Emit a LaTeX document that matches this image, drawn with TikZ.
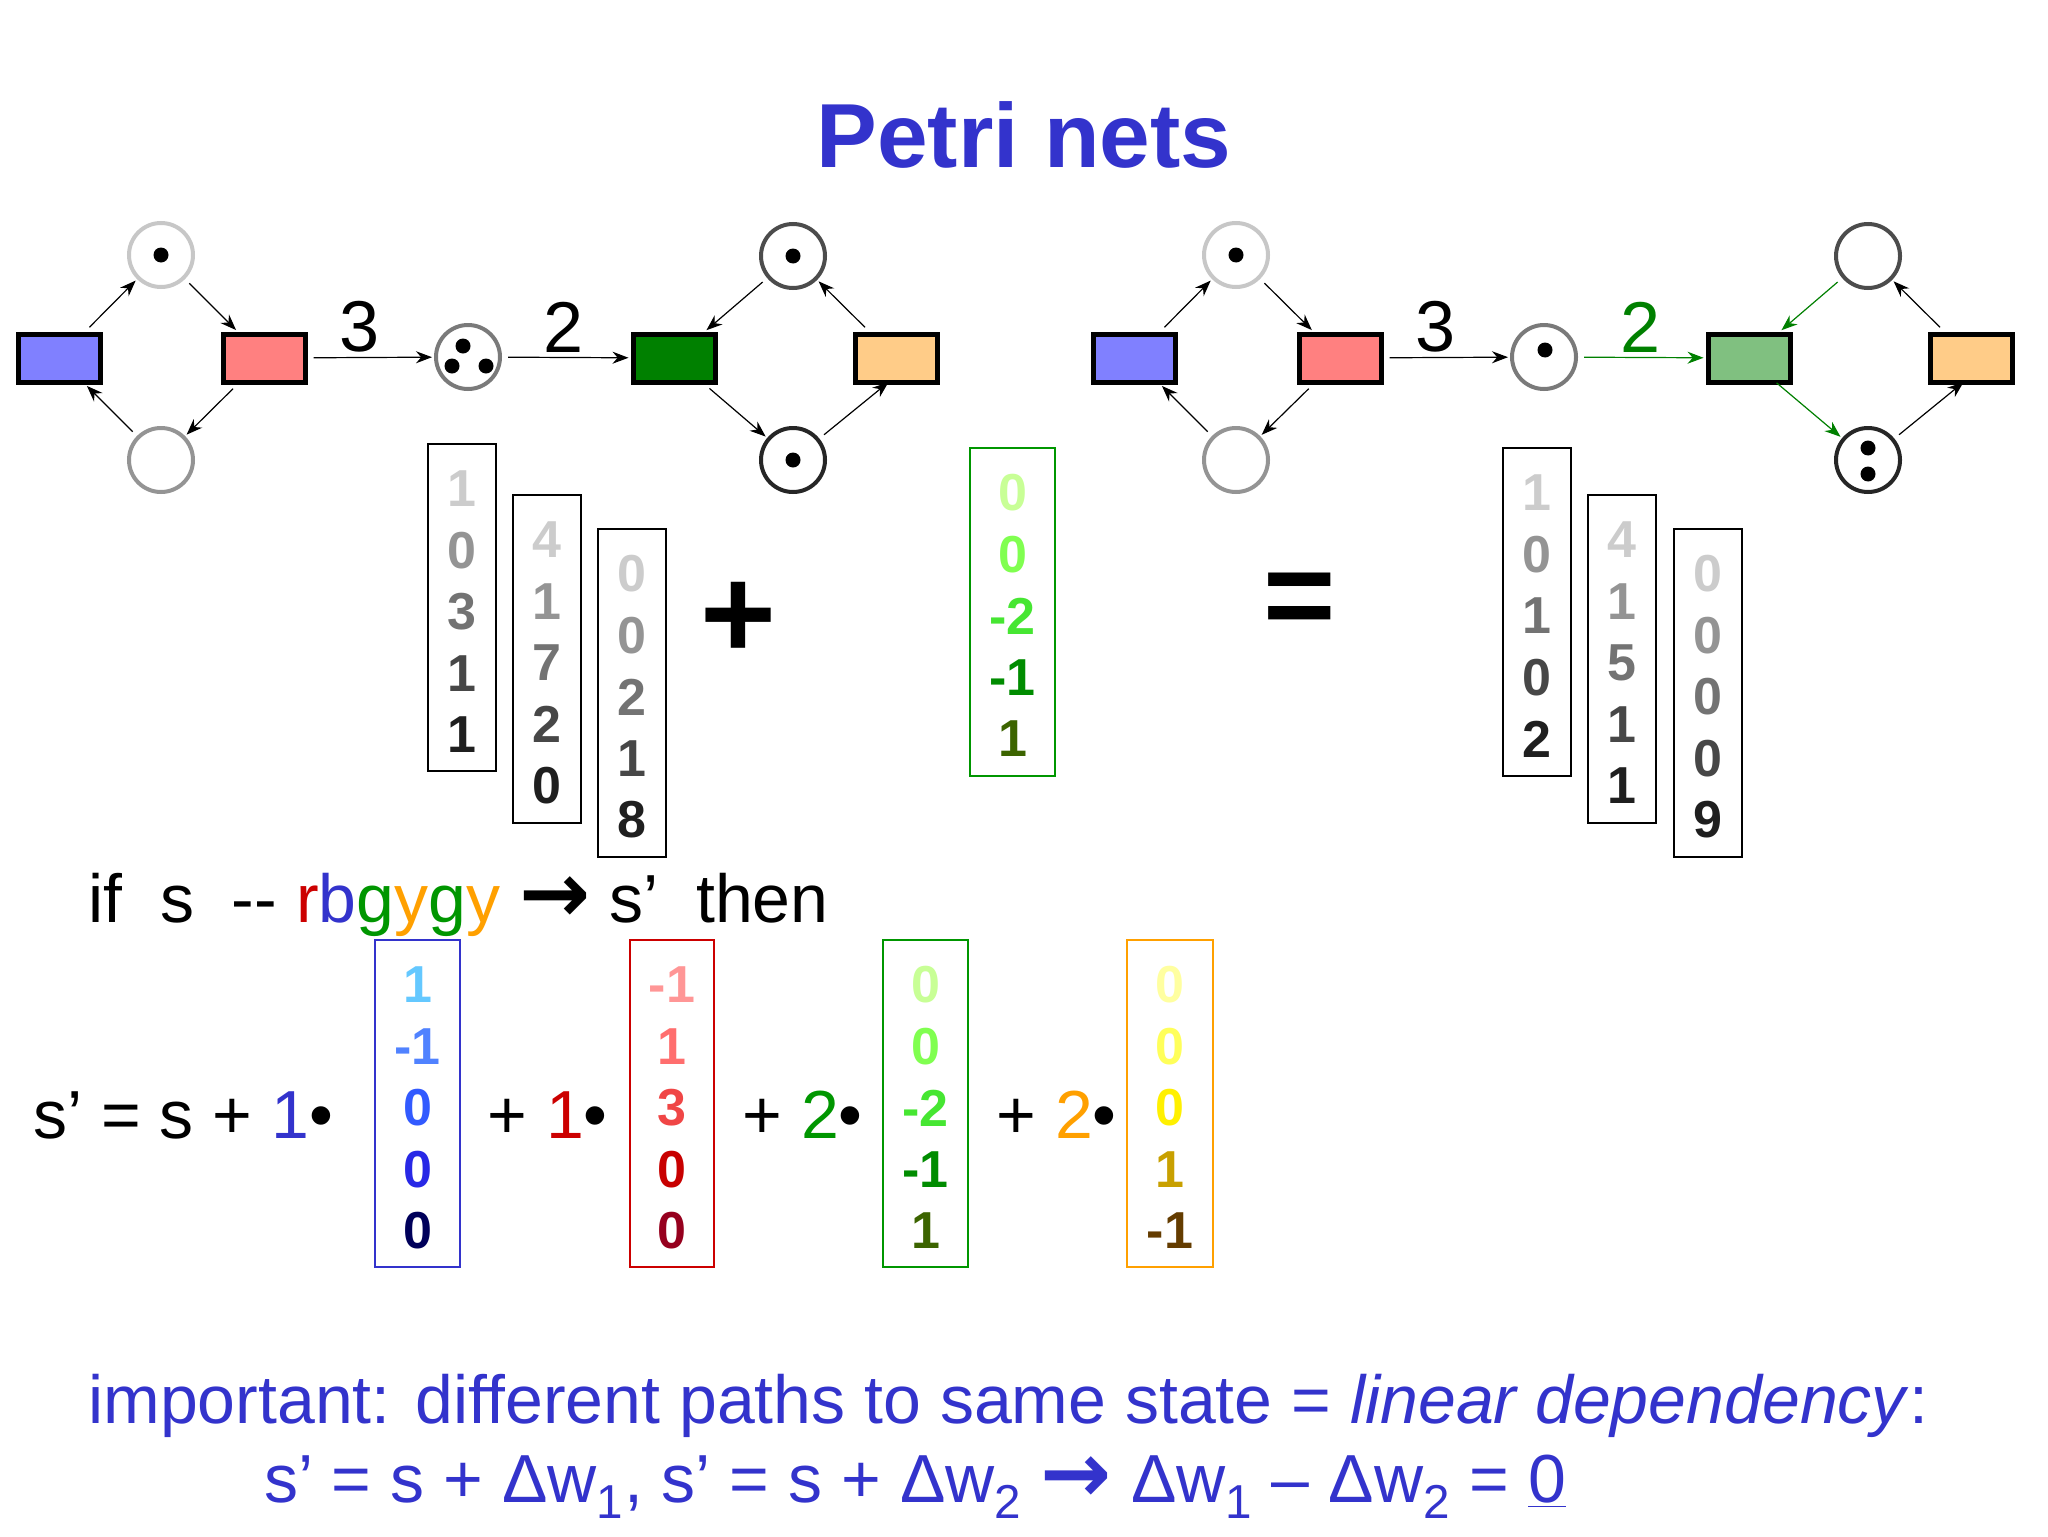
\documentclass[tikz,border=0pt]{standalone}
\usepackage{fontspec}
\setmainfont{Liberation Sans}
\newfontfamily\dvs{DejaVu Sans}
\usetikzlibrary{arrows.meta}
\definecolor{ttl}{RGB}{51,51,204}
\definecolor{tb}{RGB}{128,128,255}
\definecolor{tr}{RGB}{255,128,128}
\definecolor{tg}{RGB}{0,128,0}
\definecolor{tlg}{RGB}{128,192,128}
\definecolor{to}{RGB}{255,204,136}
\tikzset{
 x=0.5pt,y=-0.5pt,
 trans/.style={draw=black,line width=2.5pt,minimum width=41pt,minimum height=24pt,inner sep=0},
 place/.style={circle,draw,line width=2pt,minimum size=32pt,inner sep=0,fill=white},
 tok/.style={circle,fill=black,minimum size=7.5pt,inner sep=0},
 arr/.style={-{Stealth[length=8pt,width=6pt]},line width=0.6pt,shorten <=3pt,shorten >=1pt},
 lab/.style={font=\fontsize{36}{40}\selectfont},
 dig/.style={font=\fontsize{26}{28}\bfseries\selectfont,inner sep=0},
 big/.style={font=\fontsize{34}{40}\selectfont,anchor=west,inner sep=0},
}
\newcommand\bigarrow{{\dvs\bfseries\scalebox{1.25}{→}}}
\newcommand\vecbx[6]{%
 \draw[#5,line width=1pt] (#1,#2) rectangle (#3,#4);
 \foreach \c/\d [count=\i] in {#6}{
   \node[dig,text=\c] at ({(#1+#3)/2},{#2+45+(\i-1)*61.5}) {\d};}
}
\definecolor{g1}{gray}{0.80}\definecolor{g2}{gray}{0.58}\definecolor{g3}{gray}{0.45}
\definecolor{g4}{gray}{0.28}\definecolor{g5}{gray}{0.12}
\definecolor{v1}{RGB}{200,255,150}\definecolor{v2}{RGB}{128,255,80}\definecolor{v3}{RGB}{70,230,50}
\definecolor{v4}{RGB}{0,140,0}\definecolor{v5}{RGB}{60,100,0}
\definecolor{b1}{RGB}{100,200,255}\definecolor{b2}{RGB}{80,130,255}\definecolor{b3}{RGB}{50,90,255}
\definecolor{b4}{RGB}{40,40,230}\definecolor{b5}{RGB}{0,0,90}
\definecolor{r1}{RGB}{255,150,150}\definecolor{r2}{RGB}{255,110,110}\definecolor{r3}{RGB}{240,70,70}
\definecolor{r4}{RGB}{200,0,0}\definecolor{r5}{RGB}{150,0,30}
\definecolor{y1}{RGB}{255,255,160}\definecolor{y2}{RGB}{255,255,90}\definecolor{y3}{RGB}{255,240,0}
\definecolor{y4}{RGB}{200,160,0}\definecolor{y5}{RGB}{100,60,0}
\definecolor{fr}{RGB}{204,0,0}\definecolor{fg}{RGB}{0,150,0}\definecolor{fy}{RGB}{255,160,0}
\begin{document}
\begin{tikzpicture}
\useasboundingbox[fill=white] (0,0) rectangle (2048,1536);
\node[text=ttl,font=\fontsize{45.5}{52}\bfseries\selectfont] (title) at (1024,135) {Petri nets};
% ---- left net
\node[trans,fill=tb] (B1) at (59,358) {};
\node[trans,fill=tr] (R1) at (264,358) {};
\node[place,draw=black!22] (PT1) at (161,255) {};
\node[place,draw=black!42] (PB1) at (161,460) {};
\node[tok] at (PT1) {};
\node[place,draw=black!52] (PM1) at (468,357) {};
\node[tok] at (463,346) {};\node[tok] at (452,366) {};\node[tok] at (486,366) {};
\node[trans,fill=tg] (G1) at (674,358) {};
\node[trans,fill=to] (O1) at (896,358) {};
\coordinate (O1in) at (890,381);
\node[place,draw=black!70] (QT1) at (793,256) {};
\node[place,draw=black!85] (QB1) at (793,460) {};
\node[tok] at (QT1) {};\node[tok] at (QB1) {};
\draw[arr] (B1) -- (PT1);
\draw[arr] (PT1) -- (R1);
\draw[arr] (R1) -- (PB1);
\draw[arr] (PB1) -- (B1);
\draw[arr] (R1) -- (PM1);
\draw[arr] (PM1) -- (G1);
\draw[arr] (QT1) -- (G1);
\draw[arr] (G1) -- (QB1);
\draw[arr] (QB1) -- (O1in);
\draw[arr] (O1) -- (QT1);
\node[lab] (l3a) at (360,327) {3};
\node[lab] (l2a) at (564,327) {2};
% ---- right net
\node[trans,fill=tb] (B2) at (1134,358) {};
\node[trans,fill=tr] (R2) at (1340,358) {};
\node[place,draw=black!22] (PT2) at (1236,255) {};
\node[place,draw=black!42] (PB2) at (1236,460) {};
\node[tok] at (PT2) {};
\node[place,draw=black!52] (PM2) at (1544,357) {};
\node[tok] at (1545,350) {};
\node[trans,fill=tlg] (G2) at (1749,358) {};
\node[trans,fill=to] (O2) at (1971,358) {};
\coordinate (O2in) at (1965,381);
\coordinate (G2in) at (1772,379);
\node[place,draw=black!70] (QT2) at (1868,256) {};
\node[place,draw=black!85] (QB2) at (1868,460) {};
\node[tok] at (1868,448) {};\node[tok] at (1868,474) {};
\draw[arr] (B2) -- (PT2);
\draw[arr] (PT2) -- (R2);
\draw[arr] (R2) -- (PB2);
\draw[arr] (PB2) -- (B2);
\draw[arr] (R2) -- (PM2);
\draw[arr,tg] (PM2) -- (G2);
\draw[arr,tg] (QT2) -- (G2);
\draw[arr,tg] (G2in) -- (QB2);
\draw[arr] (QB2) -- (O2in);
\draw[arr] (O2) -- (QT2);
\node[lab] (l3b) at (1435,327) {3};
\node[lab,text=tg] (l2b) at (1640,327) {2};
% ---- state vectors
\vecbx{428}{444}{496}{771}{black}{g1/1,g2/0,g3/3,g4/1,g5/1}
\vecbx{513}{495}{581}{823}{black}{g1/4,g2/1,g3/7,g4/2,g5/0}
\vecbx{598}{529}{666}{857}{black}{g1/0,g2/0,g3/2,g4/1,g5/8}
\node[font=\fontsize{65}{65}\bfseries\selectfont] (plus) at (738,620) {+};
\vecbx{970}{448}{1055}{776}{fg}{v1/0,v2/0,v3/-2,v4/-1,v5/1}
\node[font=\fontsize{62}{62}\bfseries\selectfont] (eq) at (1300,605) {=};
\vecbx{1503}{448}{1571}{776}{black}{g1/1,g2/0,g3/1,g4/0,g5/2}
\vecbx{1588}{495}{1656}{823}{black}{g1/4,g2/1,g3/5,g4/1,g5/1}
\vecbx{1674}{529}{1742}{857}{black}{g1/0,g2/0,g3/0,g4/0,g5/9}
% ---- sequence
\node[big] (iftxt) at (88,905) {if\ \ s\ \ -{}- \textcolor{fr}{r}\textcolor{ttl}{b}\textcolor{fg}{g}\textcolor{fy}{y}\textcolor{fg}{g}\textcolor{fy}{y} \bigarrow\ s’\ \ then};
\node[big] (sum0) at (33,1115) {s’ = s + \textcolor{ttl}{1}•};
\vecbx{375}{940}{460}{1267}{ttl}{b1/1,b2/-1,b3/0,b4/0,b5/0}
\node[big] (sum1) at (487,1115) {+ \textcolor{fr}{1}•};
\vecbx{630}{940}{714}{1267}{fr}{r1/-1,r2/1,r3/3,r4/0,r5/0}
\node[big] (sum2) at (742,1115) {+ \textcolor{fg}{2}•};
\vecbx{883}{940}{968}{1267}{fg}{v1/0,v2/0,v3/-2,v4/-1,v5/1}
\node[big] (sum3) at (996,1115) {+ \textcolor{fy}{2}•};
\vecbx{1127}{940}{1213}{1267}{fy}{y1/0,y2/0,y3/0,y4/1,y5/-1}
% ---- bottom text
\node[text=ttl,font=\fontsize{34}{38}\selectfont,anchor=west,inner sep=0] (imp) at (88,1406)
 {important: different paths to same state = \textit{linear dependency}:};
\node[text=ttl,font=\fontsize{34}{38}\selectfont,inner sep=0] (eqn) at (915,1487)
 {s’ = s + Δw\textsubscript{1}, s’ = s + Δw\textsubscript{2} \bigarrow\ Δw\textsubscript{1} – Δw\textsubscript{2} = \underline{0}};
\end{tikzpicture}
\end{document}
